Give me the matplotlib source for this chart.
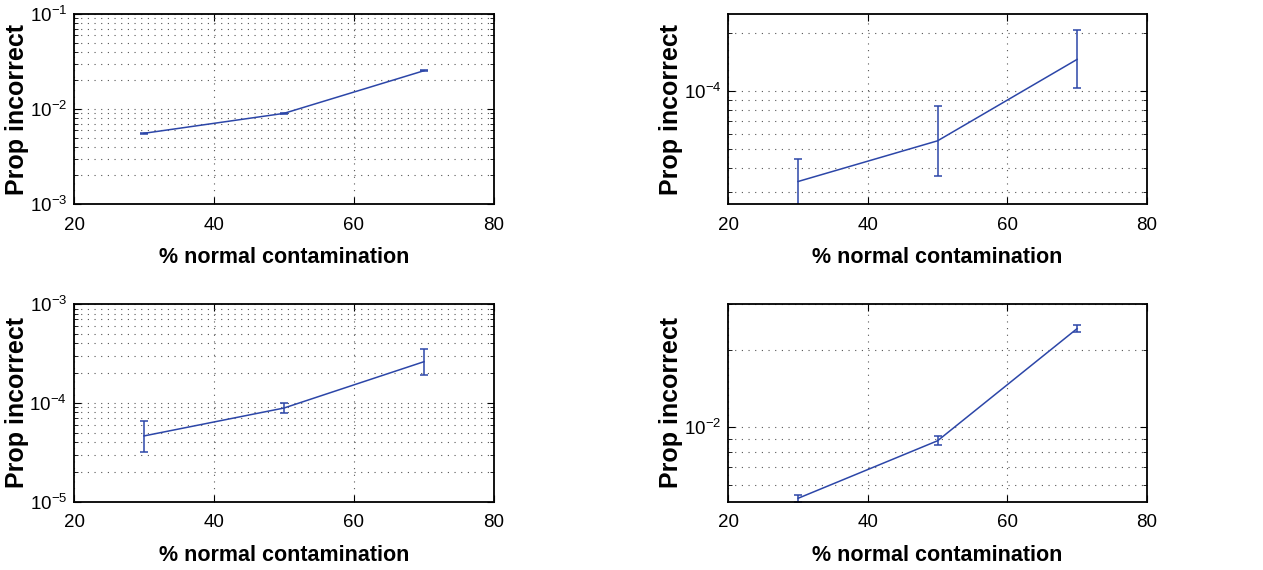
import matplotlib
matplotlib.use("Agg")
import matplotlib.pyplot as plt
import numpy as np

plt.rcParams['font.family'] = ['Liberation Sans', 'DejaVu Sans']
plt.rcParams['mathtext.default'] = 'regular'

contamination = [30, 50, 70]

# panel values (mean, lower bar end, upper bar end)
p1_mean = [0.00555, 0.0090, 0.0253]
p1_low = [0.00545, 0.00885, 0.0249]
p1_high = [0.00565, 0.00915, 0.0257]

p2_mean = [3.4e-5, 5.52e-5, 1.456e-4]
p2_low = [2.36e-5, 3.63e-5, 1.03e-4]
p2_high = [4.44e-5, 8.34e-5, 2.07e-4]

p3_mean = [4.63e-5, 8.87e-5, 2.61e-4]
p3_low = [3.16e-5, 7.85e-5, 1.93e-4]
p3_high = [6.6e-5, 1.0e-4, 3.48e-4]

p4_mean = [5.32e-3, 8.88e-3, 2.41e-2]
p4_low = [5.14e-3, 8.55e-3, 2.33e-2]
p4_high = [5.5e-3, 9.23e-3, 2.49e-2]

ylims = [(1e-3, 1e-1), (2.6e-5, 2.5e-4), (1e-5, 1e-3), (5.16e-3, 3.0e-2)]

fig = plt.figure(figsize=(12.63, 5.70), dpi=100)
positions = [
    [0.0586, 0.6421, 0.3325, 0.3333],
    [0.5767, 0.6421, 0.3313, 0.3333],
    [0.0586, 0.1198, 0.3325, 0.3468],
    [0.5767, 0.1198, 0.3313, 0.3468],
]
panels = [(p1_mean, p1_low, p1_high), (p2_mean, p2_low, p2_high),
          (p3_mean, p3_low, p3_high), (p4_mean, p4_low, p4_high)]

blue = '#2c46a8'
for pos, (mean, low, high), ylim in zip(positions, panels, ylims):
    ax = fig.add_axes(pos)
    mean = np.array(mean)
    yerr = [mean - np.array(low), np.array(high) - mean]
    ax.errorbar(contamination, mean, yerr=yerr, color=blue, lw=1.1,
                capsize=3, capthick=1.1, elinewidth=1.1)
    ax.set_yscale('log')
    ax.set_xlim(20, 80)
    ax.set_ylim(*ylim)
    ax.set_xticks([20, 40, 60, 80])
    ax.grid(True, which='major', axis='x', ls=(0, (1, 5)), color='#555555', lw=0.8)
    ax.grid(True, which='both', axis='y', ls=(0, (1, 5)), color='#555555', lw=0.8)
    ax.tick_params(which='both', direction='in', top=True, right=True,
                   labelsize=13.5)
    ax.tick_params(axis='x', pad=9)
    ax.tick_params(axis='y', pad=5)
    ax.tick_params(which='major', length=5)
    ax.tick_params(which='minor', length=3)
    ax.yaxis.set_minor_formatter(matplotlib.ticker.NullFormatter())
    for sp in ax.spines.values():
        sp.set_linewidth(1.3)
    ax.set_xlabel('% normal contamination', fontsize=15.5, fontweight='bold', labelpad=10)
    ax.set_ylabel('Prop incorrect', fontsize=18, fontweight='bold', va='center')
    ax.yaxis.set_label_coords(-0.136, 0.5)

fig.savefig('out.png', dpi=100)
